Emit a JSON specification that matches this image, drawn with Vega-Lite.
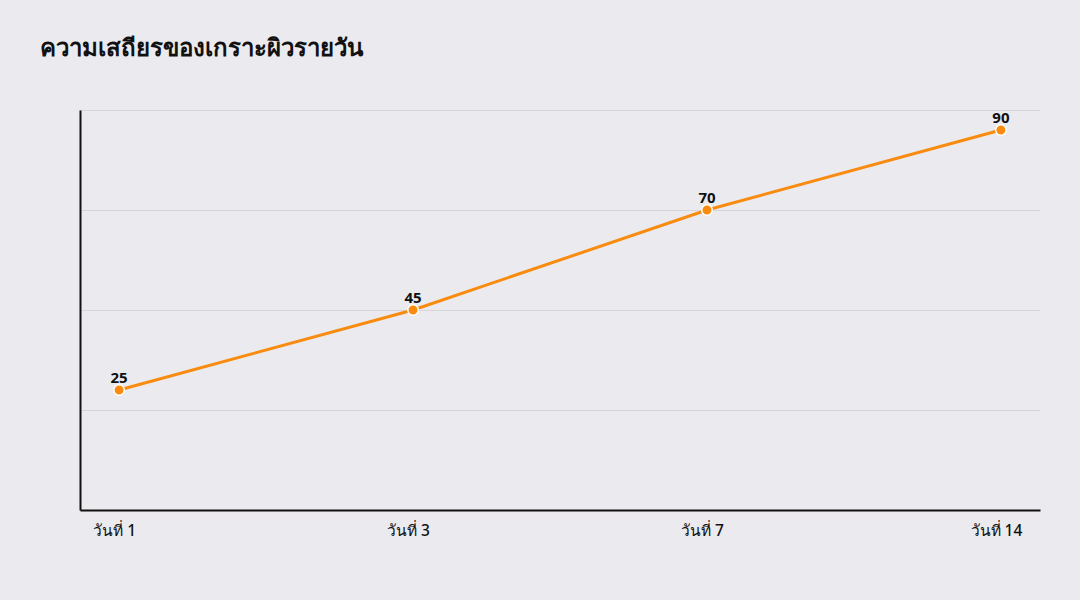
{
  "$schema": "https://vega.github.io/schema/vega-lite/v6.json",
  "width": 960,
  "height": 400,
  "autosize": {"type": "none"},
  "padding": {"left": 80, "top": 110, "right": 40, "bottom": 90},
  "background": "#EBEAEF",
  "title": {
    "text": "ความเสถียรของเกราะผิวรายวัน",
    "anchor": "start",
    "frame": "bounds",
    "dx": -40,
    "offset": 49,
    "fontSize": 24,
    "fontWeight": "bold",
    "color": "#111111",
    "font": "Noto Sans"
  },
  "config": {
    "font": "Noto Sans",
    "view": {"stroke": null},
    "axis": {"labelFont": "Noto Sans"}
  },
  "data": {
    "values": [
      {"day": "วันที่ 1", "value": 25},
      {"day": "วันที่ 3", "value": 45},
      {"day": "วันที่ 7", "value": 70},
      {"day": "วันที่ 14", "value": 90}
    ]
  },
  "encoding": {
    "x": {
      "field": "day",
      "type": "ordinal",
      "sort": null,
      "scale": {"type": "point", "padding": 0.133},
      "axis": {
        "title": null,
        "labelAngle": 0,
        "labelFontSize": 15.5,
        "labelFontWeight": 500,
        "labelColor": "#111111",
        "labelPadding": 13,
        "labelOffset": -5,
        "ticks": false,
        "domainColor": "#111111",
        "domainWidth": 2,
        "grid": false
      }
    },
    "y": {
      "field": "value",
      "type": "quantitative",
      "scale": {"domain": [-5, 95], "nice": false, "zero": false},
      "axis": {
        "title": null,
        "labels": false,
        "ticks": false,
        "values": [20, 45, 70, 95],
        "domainColor": "#111111",
        "domainWidth": 2,
        "gridColor": "#D6D5DA",
        "gridWidth": 1
      }
    }
  },
  "layer": [
    {
      "mark": {"type": "line", "color": "#F98B0E", "strokeWidth": 3}
    },
    {
      "mark": {
        "type": "point",
        "filled": true,
        "size": 110,
        "color": "#F98B0E",
        "stroke": "#FFFFFF",
        "strokeWidth": 1.5,
        "opacity": 1
      }
    },
    {
      "mark": {
        "type": "text",
        "dy": -12,
        "fontSize": 15,
        "fontWeight": "bold",
        "color": "#111111"
      },
      "encoding": {"text": {"field": "value", "type": "quantitative"}}
    }
  ]
}
